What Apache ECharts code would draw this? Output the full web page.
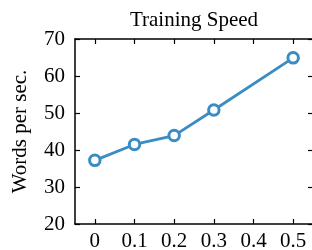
<!DOCTYPE html>
<html>
<head>
<meta charset="utf-8">
<script src="https://cdn.jsdelivr.net/npm/echarts@6/dist/echarts.min.js"></script>
<style>
  html, body { margin: 0; padding: 0; background: #fff; }
  #chart { width: 312px; height: 250px; }
</style>
</head>
<body>
<div id="chart"></div>
<script>
// values
const dropRates = [0, 0.1, 0.2, 0.3, 0.5];
const wordsPerSec = [37.2, 41.5, 43.9, 50.8, 64.9];
const xTicks = [0, 0.1, 0.2, 0.3, 0.4, 0.5];

const font = 'Liberation Serif';
const blue = '#3a8cc3';

const chart = echarts.init(document.getElementById('chart'));

const frameX = {
    type: 'value',
    min: -0.05,
    max: 0.55,
    axisLine: { show: true, onZero: false, lineStyle: { color: '#000', width: 1.5 } },
    axisTick: { show: true, inside: true, length: 5, customValues: xTicks, lineStyle: { color: '#000', width: 1.2 } },
    splitLine: { show: false }
};

const frameY = {
    type: 'value',
    min: 20,
    max: 70,
    interval: 10,
    axisLine: { show: true, onZero: false, lineStyle: { color: '#000', width: 1.5 } },
    axisTick: { show: true, inside: true, length: 5, lineStyle: { color: '#000', width: 1.2 } },
    splitLine: { show: false }
};

const option = {
    animation: false,
    title: {
        text: 'Training Speed',
        left: 189,
        top: 5,
        textAlign: 'center',
        textStyle: { fontFamily: font, fontSize: 21, fontWeight: 'normal', color: '#000' }
    },
    grid: { left: 75, top: 39, right: -1, bottom: 26, outerBoundsMode: 'none', containLabel: false },
    xAxis: [
        {
            ...frameX,
            position: 'bottom',
            axisLabel: {
                customValues: xTicks,
                margin: 7,
                fontFamily: font, fontSize: 21, color: '#000'
            }
        },
        {
            ...frameX,
            position: 'top',
            axisLabel: { show: false }
        }
    ],
    yAxis: [
        {
            ...frameY,
            name: 'Words per sec.',
            nameLocation: 'middle',
            nameGap: 44,
            nameTextStyle: { fontFamily: font, fontSize: 21, color: '#000' },
            axisLabel: { margin: 10, fontFamily: font, fontSize: 21, color: '#000' }
        },
        {
            ...frameY,
            position: 'right',
            axisLabel: { show: false }
        }
    ],
    series: [
        {
            type: 'line',
            data: dropRates.map((x, i) => [x, wordsPerSec[i]]),
            symbol: 'circle',
            symbolSize: 10.5,
            lineStyle: { color: blue, width: 2.8 },
            itemStyle: { color: '#fff', borderColor: blue, borderWidth: 3 }
        }
    ]
};

chart.setOption(option);
</script>
</body>
</html>
